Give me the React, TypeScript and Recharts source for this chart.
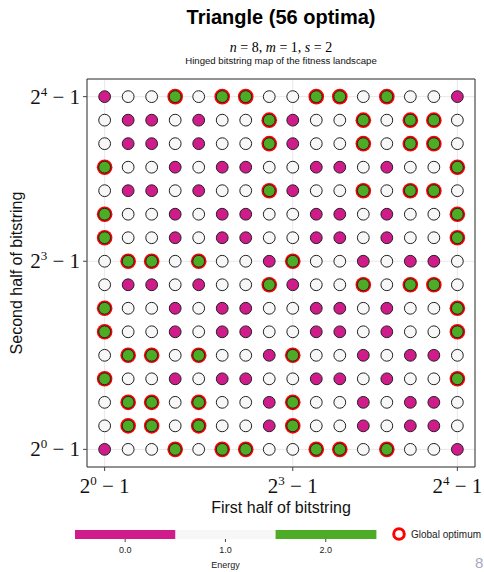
import { ScatterChart, Scatter, XAxis, YAxis, CartesianGrid, ReferenceArea } from 'recharts'

// energy of each cell; rows from the top (second half = 15) down to the bottom (second half = 0)
const energyGrid = [
  [0, 1, 1, 2, 1, 2, 2, 1, 1, 2, 2, 1, 2, 1, 1, 0],
  [1, 0, 0, 1, 0, 1, 1, 2, 0, 1, 1, 2, 1, 2, 2, 1],
  [1, 0, 0, 1, 0, 1, 1, 2, 0, 1, 1, 2, 1, 2, 2, 1],
  [2, 1, 1, 0, 1, 0, 0, 1, 1, 0, 0, 1, 0, 1, 1, 2],
  [1, 0, 0, 1, 0, 1, 1, 2, 0, 1, 1, 2, 1, 2, 2, 1],
  [2, 1, 1, 0, 1, 0, 0, 1, 1, 0, 0, 1, 0, 1, 1, 2],
  [2, 1, 1, 0, 1, 0, 0, 1, 1, 0, 0, 1, 0, 1, 1, 2],
  [1, 2, 2, 1, 2, 1, 1, 0, 2, 1, 1, 0, 1, 0, 0, 1],
  [1, 0, 0, 1, 0, 1, 1, 2, 0, 1, 1, 2, 1, 2, 2, 1],
  [2, 1, 1, 0, 1, 0, 0, 1, 1, 0, 0, 1, 0, 1, 1, 2],
  [2, 1, 1, 0, 1, 0, 0, 1, 1, 0, 0, 1, 0, 1, 1, 2],
  [1, 2, 2, 1, 2, 1, 1, 0, 2, 1, 1, 0, 1, 0, 0, 1],
  [2, 1, 1, 0, 1, 0, 0, 1, 1, 0, 0, 1, 0, 1, 1, 2],
  [1, 2, 2, 1, 2, 1, 1, 0, 2, 1, 1, 0, 1, 0, 0, 1],
  [1, 2, 2, 1, 2, 1, 1, 0, 2, 1, 1, 0, 1, 0, 0, 1],
  [0, 1, 1, 2, 1, 2, 2, 1, 1, 2, 2, 1, 2, 1, 1, 0],
]

const tickValues = [0, 8, 15]
const tickExponents = [0, 3, 4]

const energyLevels = [0, 1, 2]
const energyLabels = ['0.0', '1.0', '2.0']
const energyColors = ['#d01c8b', '#f7f7f7', '#4dac26']

const globalOptimumEnergy = 2
const domain: [number, number] = [-0.75, 15.75]

const SANS = 'Liberation Sans, Arial, Helvetica, sans-serif'
const SERIF = 'Liberation Serif, Times New Roman, serif'

const points = energyGrid.flatMap((row, r) =>
  row.map((energy, c) => ({
    x: c,
    y: energyGrid.length - 1 - r,
    energy,
    optimum: energy === globalOptimumEnergy,
  }))
)

function Dot(props: any) {
  const { cx, cy, payload } = props
  return (
    <g>
      {payload.optimum && <circle cx={cx} cy={cy} r={7.8} fill="#ff0000" />}
      <circle cx={cx} cy={cy} r={5.9} fill={energyColors[payload.energy]} stroke="#222" strokeWidth={1} />
    </g>
  )
}

function PowTick(props: any) {
  const { x, y, payload, axis } = props
  const exp = tickExponents[tickValues.indexOf(payload.value)]
  const isX = axis === 'x'
  return (
    <text
      x={isX ? x : x - 1}
      y={isX ? y + 20 : y + 7}
      textAnchor={isX ? 'middle' : 'end'}
      fontFamily={SERIF}
      fontSize={21}
      fill="#111"
    >
      2<tspan dy={-8} fontSize={13}>{exp}</tspan>
      <tspan dy={8}>{' \u2212 1'}</tspan>
    </text>
  )
}

export default function App() {
  const barLeft = 75
  const segW = 100.3
  return (
    <div style={{ position: 'absolute', left: 0, top: 0, width: 484, height: 572, background: '#fff' }}>
      <ScatterChart width={484} height={572} margin={{ top: 79, right: 9, bottom: 65, left: 15 }}>
        <CartesianGrid stroke="#e8e8e8" />
        <XAxis
          type="number"
          dataKey="x"
          domain={domain}
          ticks={tickValues}
          interval={0}
          allowDataOverflow
          height={40}
          axisLine={false}
          tickSize={4}
          tickLine={{ stroke: '#444' }}
          tick={<PowTick axis="x" />}
        />
        <YAxis
          type="number"
          dataKey="y"
          domain={domain}
          ticks={tickValues}
          interval={0}
          allowDataOverflow
          width={72}
          axisLine={false}
          tickSize={4}
          tickLine={{ stroke: '#444' }}
          tick={<PowTick axis="y" />}
        />
        <ReferenceArea x1={domain[0]} x2={domain[1]} y1={domain[0]} y2={domain[1]} fill="none" stroke="#333" strokeWidth={1} />
        <Scatter data={points} shape={<Dot />} isAnimationActive={false} />
      </ScatterChart>

      <svg width={484} height={572} style={{ position: 'absolute', left: 0, top: 0, pointerEvents: 'none' }}>
        <text x={281} y={24} textAnchor="middle" fontFamily={SANS} fontWeight="bold" fontSize={20} fill="#000">
          Triangle (56 optima)
        </text>
        <text x={281} y={51.5} textAnchor="middle" fontFamily={SERIF} fontSize={14} fill="#000">
          <tspan fontStyle="italic">n</tspan>
          {' = 8, '}
          <tspan fontStyle="italic">m</tspan>
          {' = 1, '}
          <tspan fontStyle="italic">s</tspan>
          {' = 2'}
        </text>
        <text x={281} y={64} textAnchor="middle" fontFamily={SANS} fontSize={9.6} fill="#111">
          Hinged bitstring map of the fitness landscape
        </text>
        <text x={281} y={513} textAnchor="middle" fontFamily={SANS} fontSize={16} fill="#111">
          First half of bitstring
        </text>
        <text
          x={22}
          y={273}
          textAnchor="middle"
          fontFamily={SANS}
          fontSize={16}
          fill="#111"
          transform="rotate(-90 22 273)"
        >
          Second half of bitstring
        </text>

        {energyLevels.map((lvl, i) => (
          <g key={lvl}>
            <rect x={barLeft + i * segW} y={530} width={segW + 0.5} height={9} fill={energyColors[i]} />
            <line x1={barLeft + (i + 0.5) * segW} x2={barLeft + (i + 0.5) * segW} y1={539} y2={542} stroke="#444" />
            <text x={barLeft + (i + 0.5) * segW} y={553} textAnchor="middle" fontFamily={SANS} fontSize={9} fill="#222">
              {energyLabels[i]}
            </text>
          </g>
        ))}
        <text x={barLeft + 1.5 * segW} y={568} textAnchor="middle" fontFamily={SANS} fontSize={9} fill="#222">
          Energy
        </text>

        <circle cx={399} cy={534} r={5.3} fill="#fff" stroke="#ff0000" strokeWidth={3} />
        <text x={411} y={538} fontFamily={SANS} fontSize={10} fill="#222">
          Global optimum
        </text>
        <text x={475} y={568} fontFamily={SANS} fontSize={15} fill="#a8a8bc">
          8
        </text>
      </svg>
    </div>
  )
}
